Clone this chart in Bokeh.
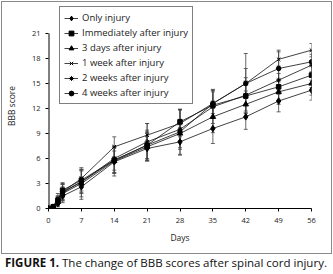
from bokeh.plotting import figure
from bokeh.layouts import column
from bokeh.models import (ColumnDataSource, Whisker, TeeHead, Legend, LegendItem,
                          FixedTicker, Range1d, Div)
from bokeh.embed import file_html
from bokeh.resources import INLINE

# Days after spinal cord injury
days = [0, 1, 2, 3, 7, 14, 21, 28, 35, 42, 49, 56]

# Mean BBB scores per group
only_injury = [0, 0, 0.6, 1.5, 2.6, 5.6, 7.2, 8.0, 9.6, 11.0, 12.9, 14.2]
immediately = [0, 0.2, 1.0, 2.2, 3.4, 5.8, 7.6, 10.4, 12.4, 13.5, 14.6, 16.0]
three_days = [0, 0.1, 0.8, 1.8, 3.0, 5.7, 7.4, 9.0, 11.0, 12.5, 14.0, 15.0]
one_week = [0, 0.3, 1.2, 2.0, 3.6, 7.4, 8.8, 10.2, 12.6, 15.0, 17.9, 19.0]
two_weeks = [0, 0.2, 1.0, 1.9, 3.2, 6.0, 8.0, 9.5, 12.2, 13.6, 15.4, 17.2]
four_weeks = [0, 0.1, 0.9, 2.0, 3.2, 5.8, 7.6, 9.2, 12.6, 15.0, 16.8, 17.6]

# Standard deviations per group
only_injury_sd = [0, 0, 0.4, 0.8, 1.2, 1.3, 1.5, 1.6, 1.8, 1.5, 1.3, 1.2]
immediately_sd = [0, 0.2, 0.5, 0.9, 1.3, 1.5, 1.6, 1.5, 1.6, 1.8, 1.6, 1.5]
three_days_sd = [0, 0.1, 0.5, 0.8, 1.9, 1.8, 1.7, 1.7, 1.9, 1.6, 1.5, 1.4]
one_week_sd = [0, 0.2, 0.6, 1.0, 1.1, 1.2, 1.4, 1.6, 1.6, 1.8, 1.1, 0.8]
two_weeks_sd = [0, 0.2, 0.5, 1.0, 1.4, 1.4, 2.2, 2.4, 2.0, 2.1, 1.7, 1.3]
four_weeks_sd = [0, 0.1, 0.5, 0.9, 1.3, 1.6, 1.8, 2.7, 1.7, 3.6, 2.0, 1.3]

labels = ["Only injury", "Immediately after injury", "3 days after injury",
          "1 week after injury", "2 weeks after injury", "4 weeks after injury"]
x_ticks = [0, 7, 14, 21, 28, 35, 42, 49, 56]
y_ticks = [0, 3, 6, 9, 12, 15, 18, 21]

series = [
    (only_injury, only_injury_sd, "diamond", 6.5),
    (immediately, immediately_sd, "square", 4.5),
    (three_days, three_days_sd, "triangle", 5.5),
    (one_week, one_week_sd, "x", 5),
    (two_weeks, two_weeks_sd, "asterisk", 5),
    (four_weeks, four_weeks_sd, "circle", 4.5),
]

FONT = "Open Sans"
INK = "#222222"

# Leave headroom above 21 so the legend sits inside the plotting frame
y_top = y_ticks[-1] * 205 / 175

p = figure(width=331, height=253, output_backend="svg", toolbar_location=None,
           x_range=Range1d(0, x_ticks[-1]), y_range=Range1d(0, y_top),
           min_border_left=46, min_border_right=22, min_border_top=1,
           min_border_bottom=47,
           styles={"border": "1px solid #8a8a8a"})
p.margin = (1, 0, 0, 1)
p.grid.visible = False
p.outline_line_color = None
p.background_fill_color = "white"
p.border_fill_color = "white"

for ax in (p.xaxis[0], p.yaxis[0]):
    ax.axis_line_color = "black"
    ax.axis_line_width = 1
    ax.major_tick_line_color = "black"
    ax.major_tick_out = 3
    ax.major_tick_in = 0
    ax.minor_tick_line_color = None
    ax.major_label_text_font = FONT
    ax.major_label_text_font_size = "7.5px"
    ax.major_label_text_color = INK
    ax.axis_label_text_font = FONT
    ax.axis_label_text_font_size = "8.5px"
    ax.axis_label_text_font_style = "normal"
    ax.axis_label_text_color = INK

p.xaxis[0].ticker = FixedTicker(ticks=x_ticks)
p.yaxis[0].ticker = FixedTicker(ticks=y_ticks)
p.xaxis[0].axis_label = "Days"
p.yaxis[0].axis_label = "BBB score"
p.xaxis[0].major_label_standoff = 6
p.xaxis[0].axis_label_standoff = 6
p.yaxis[0].major_label_standoff = 5
p.yaxis[0].axis_label_standoff = 12

# The left axis line only runs from 0 to 21
p.yaxis[0].axis_line_color = None
p.segment(x0=[0], y0=[y_ticks[0]], x1=[0], y1=[y_ticks[-1]],
          line_color="black", line_width=2)

items = []
for (vals, sd, marker, size), name in zip(series, labels):
    src = ColumnDataSource(dict(
        x=days, y=vals,
        lo=[v - s for v, s in zip(vals, sd)],
        hi=[v + s for v, s in zip(vals, sd)],
    ))
    w = Whisker(source=src, base="x", lower="lo", upper="hi",
                line_color="#444444", line_width=0.8,
                upper_head=TeeHead(size=4, line_color="#444444", line_width=0.8),
                lower_head=TeeHead(size=4, line_color="#444444", line_width=0.8))
    p.add_layout(w)
    ln = p.line("x", "y", source=src, line_color="#111111", line_width=0.8)
    sc = p.scatter("x", "y", source=src, marker=marker, size=size,
                   fill_color="black", line_color="black", line_width=1)
    items.append(LegendItem(label=name, renderers=[ln, sc]))

legend = Legend(items=items, location=(11, 104),
                label_text_font=FONT, label_text_font_size="9.5px",
                label_text_color=INK,
                glyph_height=12, glyph_width=14, label_height=12,
                label_standoff=4, spacing=2, padding=4, margin=0,
                border_line_color="black", border_line_width=1,
                background_fill_color="white", background_fill_alpha=1)
p.add_layout(legend, "center")

caption = Div(
    text="<b>FIGURE 1.</b> The change of BBB scores after spinal cord injury.",
    width=333, height=17,
    styles={"font-family": "Open Sans", "font-size": "11.5px", "color": "#111111",
            "white-space": "nowrap", "overflow": "hidden",
            "line-height": "15px", "margin-top": "1px"})

layout = column(p, caption, spacing=0)

open("out.html", "w").write(file_html(layout, INLINE))
